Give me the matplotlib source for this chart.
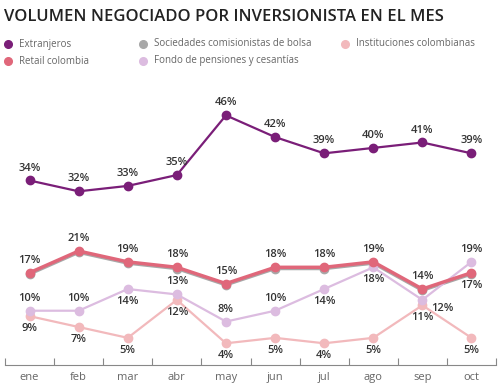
import matplotlib.pyplot as plt
import matplotlib.transforms as mtransforms

meses = ['ene', 'feb', 'mar', 'abr', 'may', 'jun', 'jul', 'ago', 'sep', 'oct']
extranjeros = [34, 32, 33, 35, 46, 42, 39, 40, 41, 39]
retail = [17, 21, 19, 18, 15, 18, 18, 19, 14, 17]
sociedades = [17, 21, 19, 18, 15, 18, 18, 19, 14, 17]
fondo = [10, 10, 14, 13, 8, 10, 14, 18, 12, 19]
instituciones = [9, 7, 5, 12, 4, 5, 4, 5, 11, 5]

# label placement per point: 'a' above, 'b' below, 'r' right
pos_ext = ['a'] * 10
pos_ret = ['a'] * 9 + ['b']
pos_fon = ['a', 'a', 'b', 'a', 'a', 'a', 'b', 'b', 'r', 'a']
pos_ins = ['b'] * 10

c_ext = '#7a1e78'
c_ret = '#e0677a'
c_soc = '#a8a8a8'
c_ins = '#f2b9bc'
c_fon = '#dcbce0'

plt.rcParams['font.family'] = ['Open Sans', 'DejaVu Sans']

fig = plt.figure(figsize=(5, 3.84), dpi=100)
ax = fig.add_axes([0.01, 0.0495, 0.982, 0.6925])
x = list(range(len(meses)))

shift = mtransforms.offset_copy(ax.transData, fig=fig, x=0, y=-1.2, units='dots')
ax.plot(x, sociedades, color=c_soc, lw=2.5, marker='o', ms=6, transform=shift, zorder=2)
ax.plot(x, instituciones, color=c_ins, lw=1.6, marker='o', ms=6, zorder=3)
ax.plot(x, fondo, color=c_fon, lw=1.6, marker='o', ms=6, zorder=4)
ax.plot(x, retail, color=c_ret, lw=2.5, marker='o', ms=6, zorder=5)
ax.plot(x, extranjeros, color=c_ext, lw=1.6, marker='o', ms=6, zorder=5)


def etiquetas(vals, posiciones):
    for i, (v, p) in enumerate(zip(vals, posiciones)):
        if p == 'a':
            off, va, ha = (0, 5), 'bottom', 'center'
        elif p == 'b':
            off, va, ha = (0, -5), 'top', 'center'
        else:
            off, va, ha = (6, -2), 'top', 'left'
        ax.annotate(f'{v}%', (i, v), xytext=off, textcoords='offset points',
                    ha=ha, va=va, fontsize=8, fontweight='semibold', color='#333333',
                    zorder=10)


etiquetas(extranjeros, pos_ext)
etiquetas(retail, pos_ret)
etiquetas(fondo, pos_fon)
etiquetas(instituciones, pos_ins)

ax.set_xlim(-0.5, 9.5)
ax.set_ylim(0, 49)
ax.set_yticks([])
ax.set_xticks(x)
ax.set_xticklabels(meses, fontsize=8, color='#666666')
ax.set_xticks([i - 0.5 for i in range(len(meses) + 1)], minor=True)
ax.tick_params(axis='x', which='major', length=0, pad=5)
ax.tick_params(axis='x', which='minor', direction='in', length=5, color='#888888', width=0.8)
for s in ['top', 'right', 'left']:
    ax.spines[s].set_visible(False)
ax.spines['bottom'].set_color('#888888')
ax.spines['bottom'].set_linewidth(0.8)

fig.text(0.008, 0.955, 'VOLUMEN NEGOCIADO POR INVERSIONISTA EN EL MES',
         fontsize=12, fontweight='semibold', color='#222222', va='center')

leyenda = [
    ('Extranjeros', c_ext, 8, 44),
    ('Retail colombia', c_ret, 8, 61),
    ('Sociedades comisionistas de bolsa', c_soc, 143, 44),
    ('Fondo de pensiones y cesantías', c_fon, 143, 61),
    ('Instituciones colombianas', c_ins, 345, 44),
]
for nombre, col, px, py in leyenda:
    fy = 1 - py / 384
    fig.lines.append(plt.Line2D([px / 500], [fy], marker='o', ms=5.5, color=col,
                                transform=fig.transFigure))
    fig.text((px + 11) / 500, fy, nombre, fontsize=7, color='#666666', va='center')

fig.savefig('out.png', dpi=100)
